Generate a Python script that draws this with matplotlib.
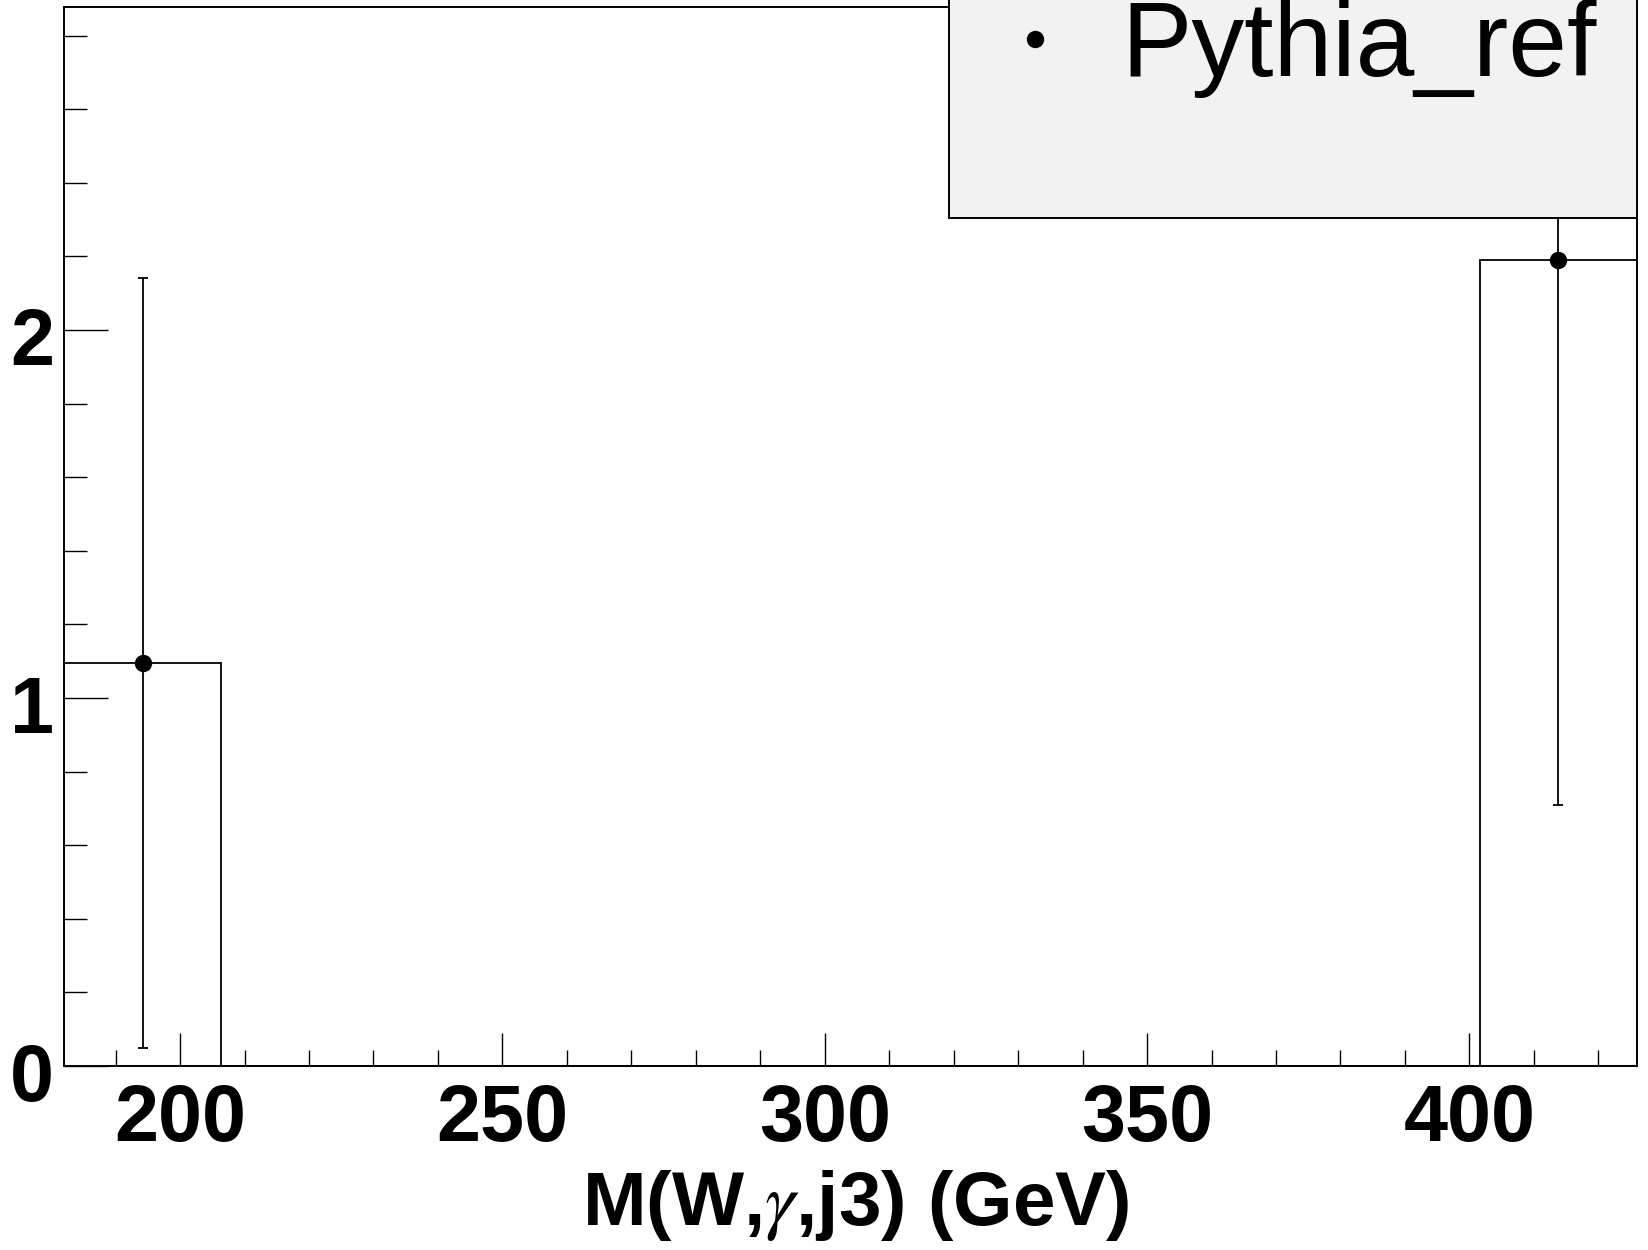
import numpy as np
import matplotlib
matplotlib.use('Agg')
import matplotlib.pyplot as plt
from matplotlib.lines import Line2D
from matplotlib.patches import Rectangle
from matplotlib.ticker import MultipleLocator
import matplotlib.transforms as mtransforms

plt.rcParams['font.family'] = ['Liberation Sans', 'DejaVu Sans']
plt.rcParams['mathtext.fontset'] = 'stix'

# histogram: 10 bins from 182 to 426
bin_edges = np.linspace(182.0, 426.0, 11)
counts = [1.095, 0, 0, 0, 0, 0, 0, 0, 0, 2.19]
errors = [1.047, 0, 0, 0, 0, 0, 0, 0, 0, 1.48]
series_name = 'Pythia_ref'
x_title = r'M(W,$\gamma$,j3) (GeV)'

W, H = 1649, 1250
fig = plt.figure(figsize=(W / 100, H / 100), dpi=100)
ax = fig.add_axes([64 / W, 1 - 1066 / H, (1637 - 64) / W, (1066 - 7) / H])

centers = 0.5 * (bin_edges[:-1] + bin_edges[1:])
counts = np.array(counts)
errors = np.array(errors)

ax.stairs(counts, bin_edges, color='black', lw=1.3)

# ROOT skips empty bins when drawing points
nz = counts > 0
ax.errorbar(centers[nz], counts[nz], yerr=errors[nz], fmt='o', color='black',
            ms=11.5, elinewidth=1.3, capsize=3.6, capthick=1.3)

ax.set_xlim(bin_edges[0], bin_edges[-1])
ax.set_ylim(0, 2.878)

ax.xaxis.set_major_locator(MultipleLocator(50))
ax.xaxis.set_minor_locator(MultipleLocator(10))
ax.yaxis.set_major_locator(MultipleLocator(1))
ax.yaxis.set_minor_locator(MultipleLocator(0.2))

ax.tick_params(axis='both', which='both', direction='in', top=False, right=False, width=1.0)
ax.tick_params(axis='y', which='major', length=32, pad=7, labelsize=57)
ax.tick_params(axis='y', which='minor', length=16.5)
ax.tick_params(axis='x', which='major', length=24, pad=12, labelsize=57)
ax.tick_params(axis='x', which='minor', length=11.5)
for lab in ax.get_xticklabels() + ax.get_yticklabels():
    lab.set_fontweight('bold')
shift = mtransforms.ScaledTranslation(0, -6 / 100, fig.dpi_scale_trans)
for lab in ax.get_yticklabels():
    lab.set_transform(lab.get_transform() + shift)

for sp in ax.spines.values():
    sp.set_linewidth(1.4)

ax.set_xlabel(x_title, fontsize=55, fontweight='bold')
ax.xaxis.set_label_coords(0.503, -0.096)

# legend box, running off the top of the canvas
box = Rectangle((949 / W, 1 - 218 / H), (1637 - 949) / W, 0.3,
                transform=fig.transFigure, facecolor='#f2f2f2',
                edgecolor='black', lw=1.4, zorder=5)
fig.add_artist(box)
handle = Line2D([], [], marker='o', ls='none', color='black', ms=11.5)
leg = fig.legend([handle], [series_name], loc='center left',
                 bbox_to_anchor=(982 / W, 1 - 48 / H), frameon=False,
                 fontsize=76, handlelength=1.0, handletextpad=0.32,
                 borderpad=0, borderaxespad=0)
leg.set_zorder(6)

fig.savefig('out.png', dpi=100)
